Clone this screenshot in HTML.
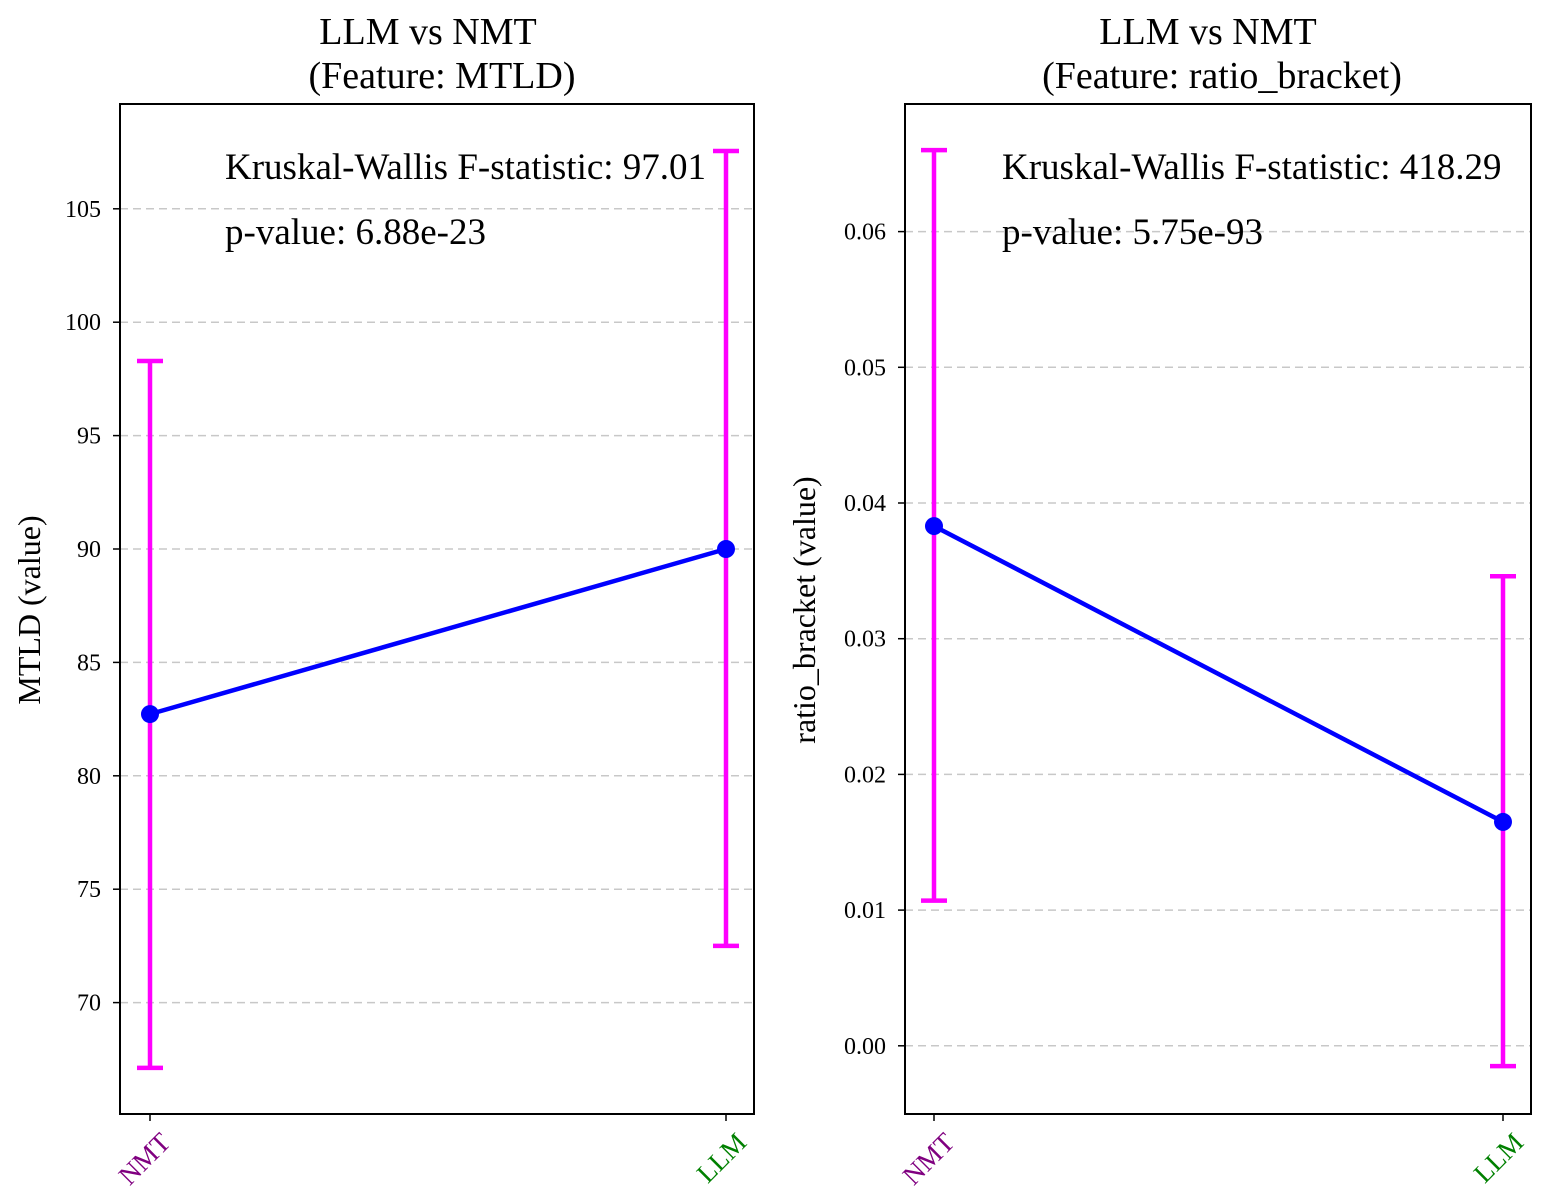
<!DOCTYPE html>
<html><head><meta charset="utf-8"><style>
body{margin:0;background:#fff;}
svg{display:block;font-family:"Liberation Serif",serif;}
</style></head><body>
<svg id="chart" width="1552" height="1202" xmlns="http://www.w3.org/2000/svg"></svg>
<script>
const categories = ["NMT", "LLM"];
const catColors = ["#800080", "#008000"];
const mtldMeans = [82.72, 90.0];
const mtldLower = [67.12, 72.5];
const mtldUpper = [98.29, 107.55];
const mtldTicks = [70, 75, 80, 85, 90, 95, 100, 105];
const brMeans = [0.0383, 0.0165];
const brLower = [0.0107, -0.0015];
const brUpper = [0.066, 0.0346];
const brTicks = [0.00, 0.01, 0.02, 0.03, 0.04, 0.05, 0.06];

const NS = "http://www.w3.org/2000/svg";
const svg = document.getElementById('chart');
function el(tag, attrs, parent, text) {
  const e = document.createElementNS(NS, tag);
  for (const k in attrs) e.setAttribute(k, attrs[k]);
  if (text !== undefined) e.textContent = text;
  (parent || svg).appendChild(e);
  return e;
}

function panel(cfg) {
  const g = el('g', {});
  
  
  const yScale = v => cfg.y0 - (v - cfg.v0) * cfg.ppu;
  const xScale = i => cfg.xs[i];
  cfg.ticks.forEach(t => {
    const y = yScale(t);
    const gl = el('line', {x1: cfg.left, x2: cfg.right, y1: y, y2: y, stroke: '#c8c8c8', 'stroke-width': 1.5, 'stroke-dasharray': '8,5'}, g);
    
    
    el('line', {x1: cfg.left - 7, x2: cfg.left, y1: y, y2: y, stroke: '#000', 'stroke-width': 1.5}, g);
    const tl = el('text', {x: cfg.left - 19, y: y + 8, 'text-anchor': 'end', 'font-size': 24}, g, cfg.fmt(t));
    
    
  });
  const pts = cfg.means.map((m, i) => xScale(i) + ',' + yScale(m)).join(' ');
  const pl = el('polyline', {points: pts, fill: 'none', stroke: '#0000ff', 'stroke-width': 4.5}, g);
  
  
  cfg.means.forEach((m, i) => {
    const x = xScale(i), yl = yScale(cfg.lower[i]), yu = yScale(cfg.upper[i]);
    const eb = el('g', {stroke: '#ff00ff', 'stroke-width': 4.5}, g);
    
    
    el('line', {x1: x, x2: x, y1: yu, y2: yl}, eb);
    el('line', {x1: x - 13, x2: x + 13, y1: yu, y2: yu}, eb);
    el('line', {x1: x - 13, x2: x + 13, y1: yl, y2: yl}, eb);
  });
  cfg.means.forEach((m, i) => {
    const c = el('circle', {cx: xScale(i), cy: yScale(m), r: 9, fill: '#0000ff'}, g);
    
    
  });
  const fr = el('rect', {x: cfg.left, y: 104, width: cfg.right - cfg.left, height: 1010, fill: 'none', stroke: '#000', 'stroke-width': 2}, g);
  
  
  categories.forEach((c, i) => {
    const x = xScale(i);
    el('line', {x1: x, x2: x, y1: 1114, y2: 1121, stroke: '#000', 'stroke-width': 1.5}, g);
    const t = el('text', {x: x + 22, y: 1144, 'text-anchor': 'end', 'font-size': 27, fill: catColors[i], transform: `rotate(-45 ${x + 22} 1144)`}, g, c);
    
    
  });
  const t1 = el('text', {x: cfg.titleX, y: 44, 'text-anchor': 'middle', 'font-size': 38}, g, 'LLM vs NMT');
  
  
  const t2 = el('text', {x: cfg.subX, y: 88, 'text-anchor': 'middle', 'font-size': 38}, g, cfg.sub);
  
  
  const yl = el('text', {x: cfg.ylabX, y: 610, 'text-anchor': 'middle', 'font-size': 32, transform: `rotate(-90 ${cfg.ylabX} 610)`}, g, cfg.ylab);
  
  
  const a1 = el('text', {x: cfg.left + cfg.annX, y: 179, 'font-size': 37}, g, cfg.stat);
  
  
  const a2 = el('text', {x: cfg.left + cfg.annX, y: 244, 'font-size': 37}, g, cfg.p);
  
  
}

panel({name: 'mtld-panel', left: 120, right: 754, xs: [150, 726], y0: 549, v0: 90, ppu: 22.68,
  ticks: mtldTicks, fmt: t => String(t), means: mtldMeans, lower: mtldLower, upper: mtldUpper,
  titleX: 428, subX: 442, sub: '(Feature: MTLD)', ylab: 'MTLD (value)', ylabX: 40, annX: 105,
  stat: 'Kruskal-Wallis F-statistic: 97.01', p: 'p-value: 6.88e-23'});
panel({name: 'ratio-bracket-panel', left: 905, right: 1531, xs: [934, 1503], y0: 503, v0: 0.04, ppu: 13570,
  ticks: brTicks, fmt: t => t.toFixed(2), means: brMeans, lower: brLower, upper: brUpper,
  titleX: 1208, subX: 1222, sub: '(Feature: ratio_bracket)', ylab: 'ratio_bracket (value)', ylabX: 815, annX: 97,
  stat: 'Kruskal-Wallis F-statistic: 418.29', p: 'p-value: 5.75e-93'});
</script>
</body></html>
